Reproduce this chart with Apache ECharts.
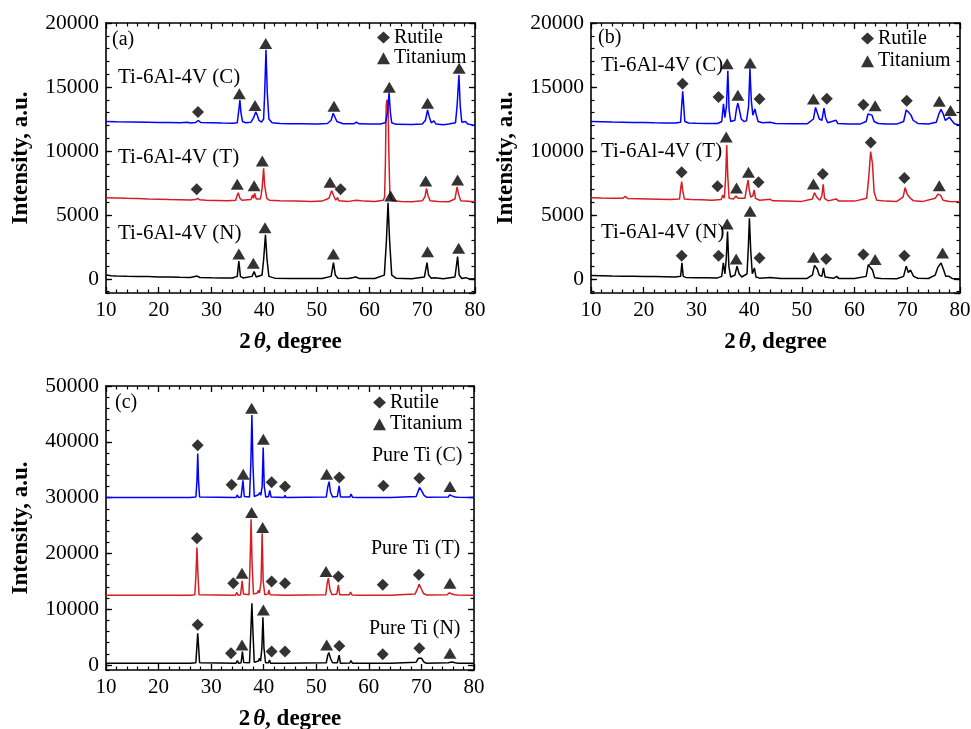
<!DOCTYPE html>
<html><head><meta charset="utf-8">
<script src="https://cdn.jsdelivr.net/npm/echarts@6/dist/echarts.min.js"></script>
<style>html,body{margin:0;padding:0;background:#fff}#c{width:971px;height:729px}</style>
</head><body><div id="c"></div>
<script>
const FONT = "'Times New Roman','Liberation Serif',serif";

// ---------- Panel (a): Ti-6Al-4V ----------
const a_C = [[10,12300],[12,12280],[15,12260],[18,12240],[20,12230],[22,12220],[24,12200],[25.5,12250],[26,12190],[27,12230],[27.5,12380],[28,12220],[30,12200],[32,12180],[34,12170],[34.9,12200],[35.2,13200],[35.4,13980],[35.6,13000],[35.9,12300],[36.5,12200],[37.5,12250],[38.0,12600],[38.4,13050],[38.7,12800],[39.0,12400],[39.5,12250],[39.9,12500],[40.1,14500],[40.35,17900],[40.6,14500],[40.9,12500],[41.5,12200],[43,12150],[45,12130],[47,12120],[50,12100],[52,12150],[52.7,12400],[53.1,12950],[53.4,12800],[53.8,12300],[55,12130],[57,12120],[57.5,12250],[58,12120],[60,12100],[62,12100],[63,12200],[63.4,13000],[63.7,14550],[63.95,13000],[64.2,12200],[65,12080],[68,12060],[70,12100],[70.6,12400],[71.0,13200],[71.3,12700],[71.7,12200],[72.2,12350],[72.6,12100],[74,12050],[75,12100],[76.3,12200],[76.6,13500],[76.95,15940],[77.2,13500],[77.5,12250],[78.2,12300],[78.6,12100],[80,12000]];
const a_T = [[10,6350],[12,6330],[14,6300],[16,6280],[18,6250],[20,6230],[22,6200],[24,6180],[26,6160],[27,6200],[27.4,6300],[27.8,6180],[29,6150],[31,6130],[33,6100],[34.6,6150],[34.9,6550],[35.1,6740],[35.4,6300],[35.8,6150],[37.5,6200],[37.8,6550],[38.0,6300],[38.2,6700],[38.5,6250],[39.3,6250],[39.6,7000],[39.9,8650],[40.1,7300],[40.5,6300],[41,6150],[43,6100],[46,6080],[49,6060],[51,6080],[52.3,6300],[52.8,6900],[53.2,6500],[53.6,6150],[53.9,6350],[54.2,6100],[56,6060],[57.5,6150],[59,6080],[61,6050],[62.6,6150],[62.85,6400],[63.0,9000],[63.15,13500],[63.3,14000],[63.5,13800],[63.65,10000],[63.85,6600],[64.3,6100],[66,6050],[68,6040],[70,6100],[70.5,6400],[70.8,7080],[71.1,6500],[71.5,6100],[73,6050],[75,6030],[76.2,6250],[76.6,7200],[76.9,6600],[77.3,6100],[78,6080],[80,6040]];
const a_N = [[10,300],[11,250],[12,230],[14,200],[16,190],[18,180],[20,160],[22,150],[24,130],[26,120],[27.3,220],[27.8,110],[30,90],[32,80],[34,70],[34.9,200],[35.2,1400],[35.5,200],[36,80],[37.7,200],[38.1,570],[38.5,150],[39.6,300],[39.9,1500],[40.25,3440],[40.55,1500],[40.9,200],[42,60],[45,40],[48,30],[51,30],[52.7,200],[53.15,1280],[53.5,300],[54,60],[56,40],[57.4,150],[58,40],[61,30],[62.8,300],[63.2,3000],[63.5,5950],[63.8,3000],[64.2,300],[65,60],[68,20],[70.4,150],[70.9,1280],[71.2,300],[71.7,50],[72.3,100],[74,20],[76.2,150],[76.7,1740],[77.0,300],[77.5,40],[78.2,100],[79,0],[80,10]];
const a_rutile = [[27.45,13050],[27.2,7010],[54.5,7010]];
const a_titanium = [[35.3,14480],[38.27,13550],[40.3,18400],[53.25,13500],[63.75,14980],[71.0,13720],[77.0,16460],
  [34.9,7400],[38.1,7290],[39.65,9220],[52.5,7550],[70.65,7660],[76.7,7730],
  [35.2,1950],[37.95,1220],[40.16,3990],[53.13,1950],[64.0,6490],[71.0,2130],[76.9,2400]];

// ---------- Panel (b): Ti-6Al-4V ----------
const b_C = [[10,12300],[12,12280],[14,12260],[16,12250],[18,12230],[20,12220],[22,12200],[24,12190],[26,12180],[27.0,12250],[27.2,13500],[27.4,14660],[27.6,13500],[27.8,12300],[28.5,12180],[30,12160],[32,12150],[34,12150],[34.8,12300],[35.13,13690],[35.4,12600],[35.7,13500],[35.96,16270],[36.2,13200],[36.5,12300],[37.3,12400],[37.6,13300],[37.86,13740],[38.1,13300],[38.5,12500],[39,12300],[39.5,12350],[39.9,13500],[40.15,16450],[40.4,14000],[40.7,12800],[41.1,13280],[41.3,12900],[41.7,12300],[42.5,12200],[44,12250],[45,12150],[48,12120],[51,12120],[52.2,12500],[52.6,13400],[52.9,13300],[53.3,12500],[53.8,12400],[54.2,13340],[54.5,12600],[54.9,12200],[56.5,12400],[56.8,12150],[59,12100],[61,12100],[62.2,12300],[62.55,12890],[62.9,12750],[63.3,12800],[63.7,12300],[64.5,12150],[66,12100],[68,12100],[69.3,12300],[69.8,13200],[70.2,13050],[70.7,12800],[71.1,12400],[72,12150],[74,12100],[75.5,12250],[76.0,12900],[76.4,13260],[76.8,12900],[77.2,12400],[77.6,12500],[78.0,12640],[78.4,12400],[79,12100],[80,12030]];
const b_T = [[10,6350],[12,6320],[14,6300],[16,6300],[16.5,6450],[17,6280],[19,6260],[21,6240],[23,6220],[25,6200],[26.8,6250],[27.0,7000],[27.2,7600],[27.4,6900],[27.7,6250],[29,6200],[31,6180],[33,6150],[34.7,6200],[35.0,6550],[35.3,6300],[35.55,8000],[35.75,10470],[35.95,8000],[36.2,6300],[37,6250],[37.5,6470],[37.9,6300],[39.2,6300],[39.55,7200],[39.8,7730],[40.0,7000],[40.3,6400],[40.7,6500],[40.95,6950],[41.2,6300],[42,6150],[44,6220],[44.5,6100],[47,6080],[50,6060],[52,6250],[52.4,6740],[52.8,6400],[53.4,6150],[53.8,6500],[54.05,7400],[54.3,6300],[55,6100],[56.5,6250],[57,6080],[60,6080],[62.3,6300],[62.7,8000],[63.05,9950],[63.4,9000],[63.7,6800],[64.2,6150],[66,6080],[68,6060],[69.2,6400],[69.6,7140],[70.0,6600],[70.6,6300],[71.2,6100],[73,6060],[75.3,6300],[75.8,6620],[76.3,6550],[76.8,6150],[78,6050],[80,6040]];
const b_N = [[10,260],[12,240],[14,220],[16,210],[18,200],[20,190],[22,180],[24,170],[26,150],[27.0,200],[27.25,1250],[27.5,200],[28,120],[30,100],[32,90],[34,80],[34.8,200],[35.1,1250],[35.4,400],[35.65,1500],[35.9,3700],[36.15,1000],[36.5,150],[37.3,300],[37.7,1000],[38.1,400],[38.6,150],[39.6,400],[39.85,2500],[40.05,4740],[40.3,2200],[40.6,400],[41.0,860],[41.3,150],[42,60],[44,120],[46,40],[49,30],[51,40],[52.0,300],[52.4,1060],[52.9,800],[53.3,300],[53.8,200],[54.1,860],[54.4,150],[56,50],[56.6,200],[57,40],[60,30],[62.2,200],[62.6,1110],[63.0,900],[63.4,700],[63.8,100],[65,30],[68,20],[69.3,200],[69.8,1000],[70.2,500],[70.6,700],[71.2,200],[72,50],[74,30],[75.3,300],[75.8,900],[76.4,1250],[76.9,700],[77.3,200],[77.9,200],[78.5,40],[80,0]];
const b_rutile = [[27.37,15260],[34.19,14220],[41.96,14060],[54.73,14090],[61.67,13620],[69.9,13930],
  [27.19,8330],[34.0,7240],[41.77,7550],[53.97,8200],[63.07,10670],[69.45,7890],
  [27.2,1820],[34.2,1820],[41.96,1640],[54.6,1560],[61.67,1900],[69.45,1820]];
const b_titanium = [[35.83,16820],[40.19,16870],[37.86,14350],[52.2,14060],[63.9,13540],[76.07,13880],[78.2,13170],
  [35.65,11090],[37.6,7110],[39.87,8330],[52.2,7420],[76.07,7290],
  [35.83,4300],[37.54,1560],[40.19,5280],[52.2,1690],[63.9,1510],[76.7,2030]];

// ---------- Panel (c): Pure Ti ----------
const c_C = [[10,30000],[26,30000],[27.1,30100],[27.3,33000],[27.45,37900],[27.6,33000],[27.8,30100],[34.7,30000],[35.0,30480],[35.2,30000],[35.7,30100],[36.05,33100],[36.3,30200],[37.3,30100],[37.55,36000],[37.75,44820],[37.95,36000],[38.2,30200],[39.0,30500],[39.25,30900],[39.45,30400],[39.7,32000],[39.9,38960],[40.1,32000],[40.4,30100],[40.9,30200],[41.15,31300],[41.4,30100],[43.85,30000],[44.05,30400],[44.25,30000],[51.9,30100],[52.2,32000],[52.45,32870],[52.7,31000],[53.1,30100],[54.0,30200],[54.35,32100],[54.6,30100],[56.4,30100],[56.6,30650],[56.9,30050],[57.9,30000],[58.1,30200],[58.4,30000],[62.6,30000],[62.8,30300],[63.0,30000],[63.8,30000],[64.0,30250],[64.2,30000],[69.0,30200],[69.4,31200],[69.65,31800],[70.0,31300],[70.5,30400],[71,30050],[75.1,30100],[75.4,30500],[75.8,30300],[76.4,30100],[76.7,30300],[77.0,30050],[80,30000]];
const c_T = [[10,12500],[26,12500],[26.9,12600],[27.1,16000],[27.3,21040],[27.5,16000],[27.7,12600],[34.6,12500],[34.9,13000],[35.1,12500],[35.6,12600],[35.9,15070],[36.15,12700],[37.2,12600],[37.4,18000],[37.6,26130],[37.8,18000],[38.05,12700],[38.8,12900],[39.0,13400],[39.2,12900],[39.5,15000],[39.7,23620],[39.9,15000],[40.2,12600],[40.8,12700],[41.0,13430],[41.2,12600],[43.8,12500],[44.0,12800],[44.2,12500],[51.8,12600],[52.1,14800],[52.3,15550],[52.6,13500],[53.0,12600],[53.9,12700],[54.2,14360],[54.45,12600],[56.3,12600],[56.5,13070],[56.8,12550],[57.9,12500],[58.1,12650],[58.4,12500],[62.5,12500],[62.7,12750],[62.9,12500],[63.7,12500],[63.9,12750],[64.1,12500],[68.8,12700],[69.3,13800],[69.55,14480],[69.9,13800],[70.4,12800],[71,12550],[74.9,12600],[75.3,12950],[75.7,12750],[76.3,12600],[76.6,12800],[76.9,12550],[80,12500]];
const c_N = [[10,300],[26,300],[27.1,400],[27.3,3500],[27.45,5700],[27.6,3500],[27.8,400],[34.7,300],[35.0,800],[35.2,300],[35.7,400],[35.95,2400],[36.2,450],[37.3,400],[37.55,6000],[37.75,11070],[37.95,6000],[38.2,500],[39.0,700],[39.2,1200],[39.4,700],[39.65,3000],[39.85,8560],[40.05,3000],[40.35,400],[40.9,400],[41.1,900],[41.3,300],[43.85,300],[44.05,600],[44.25,300],[51.9,400],[52.2,1800],[52.4,2220],[52.7,1200],[53.1,400],[54.0,400],[54.35,1750],[54.6,300],[56.4,350],[56.6,800],[56.9,300],[57.9,300],[58.1,450],[58.4,300],[62.6,300],[62.8,550],[63.0,300],[63.8,300],[64.0,500],[64.2,300],[69.0,500],[69.4,1200],[69.65,1500],[70.0,1200],[70.5,500],[71,300],[75.1,400],[75.4,700],[75.8,550],[76.4,400],[76.7,550],[77.0,300],[80,300]];
const c_rutile = [[27.44,39390],[33.9,32280],[41.5,32760],[44.05,31970],[54.38,33590],[62.76,32100],[69.6,33480],
  [27.3,22720],[34.2,14660],[41.5,14950],[44.05,14660],[54.2,15840],[62.64,14360],[69.5,16150],
  [27.44,7190],[33.78,2110],[41.5,2400],[44.05,2400],[54.38,3420],[62.64,1930],[69.6,3010]];
const c_titanium = [[36.1,34190],[37.7,46020],[39.93,40460],[51.98,34190],[75.43,31970],
  [35.87,16450],[37.7,27310],[39.8,24630],[51.85,16740],[75.43,14660],
  [35.87,3600],[39.93,9870],[51.98,3600],[75.43,2110]];

// ---------- axes settings ----------
const xTicks = {min:10, max:80, interval:10};
const yA = {min:-1100, max:20000, minorStep:1000};
const yC = {min:-900, max:50000, minorStep:2000};

const BLUE = '#0000ff', RED = '#d41e24', BLACK = '#000000';

const grids = [
  {left:106, top:23, width:369, height:270},
  {left:591, top:23, width:369, height:270},
  {left:106, top:386, width:368, height:284}
];

const xAxis = [], yAxis = [];
const lineStyle = {color:'#000', width:1.6};
grids.forEach((g, i) => {
  // bottom
  xAxis.push({type:'value', gridIndex:i, position:'bottom', min:xTicks.min, max:xTicks.max, interval:xTicks.interval,
    axisLine:{show:true, onZero:false, lineStyle}, axisTick:{show:true, inside:true, length:6, lineStyle:{color:'#000', width:1.3}},
    minorTick:{show:true, splitNumber:5, length:3.5, lineStyle:{color:'#000', width:1.2}},
    splitLine:{show:false}, minorSplitLine:{show:false},
    axisLabel:{show:true, margin:7, color:'#000', fontFamily:FONT, fontSize:21, formatter:v => String(v)},
    name:'{n|2}{t|θ}{n|, degree}', nameLocation:'middle', nameGap:38,
    nameTextStyle:{rich:{n:{fontFamily:FONT, fontWeight:'bold', fontSize:23, color:'#000'}, t:{fontFamily:FONT, fontStyle:'italic', fontWeight:'bold', fontSize:23, color:'#000', padding:[0,0,0,3]}}}
  });
  // top
  xAxis.push({type:'value', gridIndex:i, position:'top', min:xTicks.min, max:xTicks.max, interval:xTicks.interval,
    axisLine:{show:true, onZero:false, lineStyle}, axisTick:{show:true, inside:true, length:6, lineStyle:{color:'#000', width:1.3}},
    minorTick:{show:true, splitNumber:5, length:3.5, lineStyle:{color:'#000', width:1.2}},
    splitLine:{show:false}, axisLabel:{show:false}});
  const ys = i < 2 ? yA : yC;
  ['left','right'].forEach(pos => {
    // main axis: labels and major ticks
    yAxis.push({type:'value', gridIndex:i, position:pos, min:ys.min, max:ys.max, splitNumber:4,
      axisLine:{show:true, onZero:false, lineStyle}, axisTick:{show:true, inside:true, length:6, lineStyle:{color:'#000', width:1.3}},
      splitLine:{show:false},
      axisLabel:{show:pos==='left', showMinLabel:false, margin:7, color:'#000', fontFamily:FONT, fontSize:21.5, formatter:v => String(v)},
      name: pos==='left' ? 'Intensity, a.u.' : '', nameLocation:'middle', nameGap:73, nameRotate:90,
      nameTextStyle:{fontFamily:FONT, fontWeight:'bold', fontSize:23, color:'#000'}
    });
    // minor ticks axis (inverse, so ticks count from the top value)
    yAxis.push({type:'value', gridIndex:i, position:pos, inverse:true, min:-ys.max, max:-ys.min, interval:ys.minorStep,
      axisLine:{show:false}, axisTick:{show:true, inside:true, length:3.5, lineStyle:{color:'#000', width:1.2}},
      splitLine:{show:false}, axisLabel:{show:false}});
  });
});

function lineS(name, data, color, gi) {
  return {name, type:'line', xAxisIndex:gi*2, yAxisIndex:gi*4, data, showSymbol:false, symbol:'none',
    lineStyle:{color, width:1.5}, itemStyle:{color}, silent:true, animation:false, z:2};
}
function markS(name, data, gi) {
  const tri = name === 'Titanium';
  return {name, type:'scatter', xAxisIndex:gi*2, yAxisIndex:gi*4, data,
    symbol: tri ? 'triangle' : 'diamond', symbolSize: tri ? [13,11] : [12,12],
    itemStyle:{color:'#000'}, silent:true, animation:false, z:5};
}

const series = [
  lineS('a-N', a_N, BLACK, 0), lineS('a-T', a_T, RED, 0), lineS('a-C', a_C, BLUE, 0),
  markS('Rutile', a_rutile, 0), markS('Titanium', a_titanium, 0),
  lineS('b-N', b_N, BLACK, 1), lineS('b-T', b_T, RED, 1), lineS('b-C', b_C, BLUE, 1),
  markS('Rutile', b_rutile, 1), markS('Titanium', b_titanium, 1),
  lineS('c-N', c_N, BLACK, 2), lineS('c-T', c_T, RED, 2), lineS('c-C', c_C, BLUE, 2),
  markS('Rutile', c_rutile, 2), markS('Titanium', c_titanium, 2)
];

function legendAt(left, top, gap) {
  return {orient:'vertical', left, top, itemWidth:13, itemHeight:12, itemGap:gap, selectedMode:false,
    data:[{name:'Rutile', icon:'diamond'}, {name:'Titanium', icon:'triangle'}],
    textStyle:{fontFamily:FONT, fontSize:20, color:'#000', padding:[0,0,0,-1], lineHeight:20}, padding:0};
}

function txt(x, y, text, size) {
  return {type:'text', x, y, silent:true,
    style:{text, fontFamily:FONT, fontSize:size, fill:'#000', verticalAlign:'middle', align:'left'}};
}

const option = {
  backgroundColor:'#fff',
  animation:false,
  grid: grids.map(g => Object.assign({containLabel:false, outerBoundsMode:'none'}, g)),
  xAxis, yAxis, series,
  legend:[legendAt(377, 27.5, 0.7), legendAt(861, 28.5, 2.7), legendAt(373, 392.5, 1.7)],
  graphic:[
    txt(112, 40, '(a)', 20), txt(118, 77, 'Ti-6Al-4V (C)', 21), txt(118, 157, 'Ti-6Al-4V (T)', 21), txt(118, 233, 'Ti-6Al-4V (N)', 21),
    txt(598, 38, '(b)', 20), txt(601, 65, 'Ti-6Al-4V (C)', 21), txt(601, 151, 'Ti-6Al-4V (T)', 21), txt(601, 232, 'Ti-6Al-4V (N)', 21),
    txt(115, 403, '(c)', 20), txt(372, 456, 'Pure Ti (C)', 20), txt(371, 549, 'Pure Ti (T)', 20), txt(369, 629, 'Pure Ti (N)', 20)
  ]
};

const chart = echarts.init(document.getElementById('c'), null, {renderer:'canvas'});
chart.setOption(option);
</script>
</body></html>
